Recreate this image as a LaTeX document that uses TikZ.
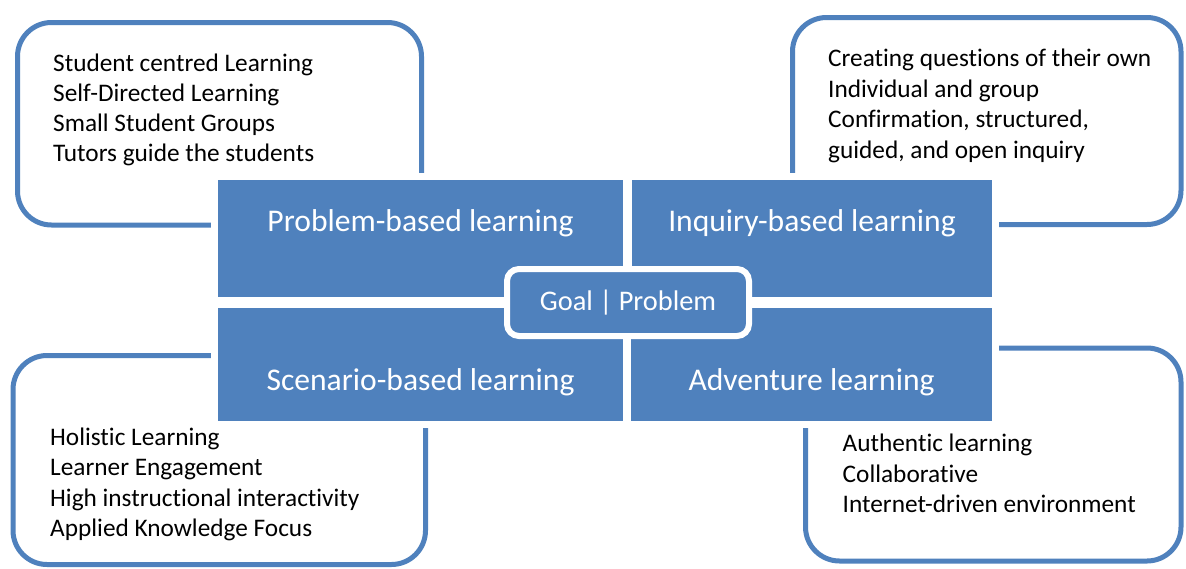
\documentclass[tikz,border=0pt]{standalone}
\usepackage{fontspec}
\setmainfont{Carlito}[Ligatures={NoCommon}]
\usetikzlibrary{positioning}
\definecolor{tileblue}{HTML}{4F81BD}
\tikzset{
    frame/.style={draw=tileblue, line width=5pt, fill=white, rounded corners=34pt, inner sep=0pt},
    tile/.style={fill=tileblue, inner sep=0pt},
    tilelabel/.style={text=white, anchor=base, inner sep=0pt, font=\fontsize{31.6}{34}\selectfont},
    goalbox/.style={fill=tileblue, draw=white, line width=6pt, rounded corners=12pt, text=white, inner sep=0pt, font=\fontsize{28.4}{30}\selectfont},
    point/.style={anchor=base west, inner sep=0pt, font=\fontsize{25.3}{28}\selectfont}
}

\begin{document}
\begin{tikzpicture}[x=1pt,y=-1pt]
\useasboundingbox (0,0) rectangle (1186,568);
\foreach \p/\cx/\cy/\w/\h in {pblf/219.5/123.75/404/202.5, iblf/986.75/121/388.5/207, sblf/219.25/460/412.5/209, adlf/993.25/454.5/375.5/213}{
    \node[frame, minimum width=\w pt, minimum height=\h pt] (\p) at (\cx,\cy) {};
}
\node[fill=white, inner sep=0pt, minimum width=788pt, minimum height=255pt] (tilebg) at (605,300.5) {};
\foreach \p/\cx/\cy/\w/\h/\by/\lbl in {pbl/420.5/238.5/405/117/231/{Problem-based learning}, ibl/812/238.5/360/117/231/{Inquiry-based learning}, sbl/420.5/364.5/405/113/390/{Scenario-based learning}, adl/811.5/364.5/361/113/390/{Adventure learning}}{
    \node[tile, minimum width=\w pt, minimum height=\h pt] (\p) at (\cx,\cy) {};
    \node[tilelabel] (\p-lbl) at (\cx,\by) {\lbl};
}
\node[goalbox, minimum width=242pt, minimum height=67pt] (goal) at (628,302.5) {Goal | Problem};
\foreach \txt [count=\i from 0] in {Student centred Learning, Self-Directed Learning, Small Student Groups, Tutors guide the students}{
    \node[point] (pbl\i) at (53,{71+30.3*\i}) {\txt};
}
\foreach \txt [count=\i from 0] in {Creating questions of their own, Individual and group, {Confirmation, structured,}, {guided, and open inquiry}}{
    \node[point] (ibl\i) at (828,{66.7+30.5*\i}) {\txt};
}
\foreach \txt [count=\i from 0] in {Holistic Learning, Learner Engagement, High instructional interactivity, Applied Knowledge Focus}{
    \node[point] (sbl\i) at (50,{445+30.5*\i}) {\txt};
}
\foreach \txt [count=\i from 0] in {Authentic learning, Collaborative, Internet-driven environment}{
    \node[point] (adl\i) at (842.5,{451.7+30.5*\i}) {\txt};
}
\end{tikzpicture}
\end{document}
